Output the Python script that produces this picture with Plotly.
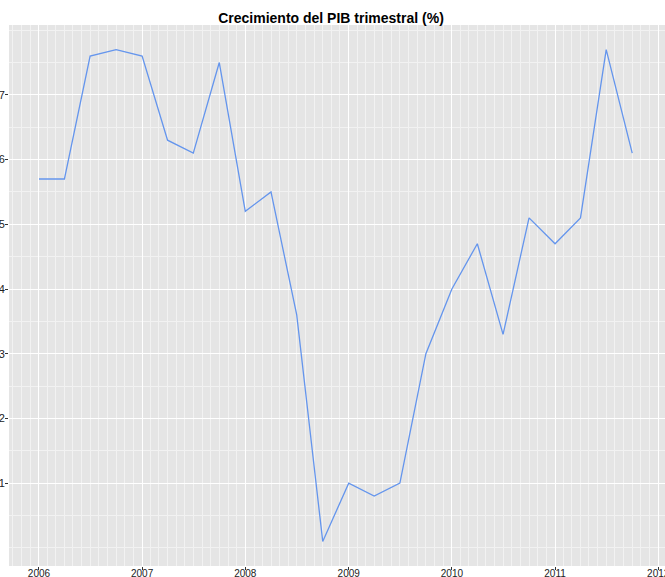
import plotly.graph_objects as go

quarters = [
    "2006-01-01", "2006-04-01", "2006-07-01", "2006-10-01",
    "2007-01-01", "2007-04-01", "2007-07-01", "2007-10-01",
    "2008-01-01", "2008-04-01", "2008-07-01", "2008-10-01",
    "2009-01-01", "2009-04-01", "2009-07-01", "2009-10-01",
    "2010-01-01", "2010-04-01", "2010-07-01", "2010-10-01",
    "2011-01-01", "2011-04-01", "2011-07-01", "2011-10-01",
]
pib_growth = [
    5.7, 5.7, 7.6, 7.7,
    7.6, 6.3, 6.1, 7.5,
    5.2, 5.5, 3.6, 0.1,
    1.0, 0.8, 1.0, 3.0,
    4.0, 4.7, 3.3, 5.1,
    4.7, 5.1, 7.7, 6.1,
]
y_ticks = [1, 2, 3, 4, 5, 6, 7]
title_text = "Crecimiento del PIB trimestral (%)"

fig = go.Figure()
fig.add_trace(go.Scatter(
    x=quarters, y=pib_growth, mode="lines",
    line=dict(color="#6495ED", width=1.3),
    showlegend=False,
))

fig.update_layout(
    template="none",
    width=665, height=577,
    margin=dict(l=9, r=0, t=25, b=11),
    paper_bgcolor="white",
    plot_bgcolor="#E5E5E5",
    font=dict(family="Liberation Sans", color="#222222"),
    title=dict(
        text=f"<b>{title_text}</b>",
        x=331 / 665, xanchor="center",
        y=1 - 18 / 577, yanchor="middle",
        font=dict(size=14, color="black"),
    ),
    xaxis=dict(
        type="date",
        range=["2005-09-17", "2012-01-25"],
        tick0="2006-01-01", dtick="M12", tickformat="%Y",
        showgrid=True, gridcolor="white", gridwidth=1.4,
        zeroline=False, showline=False,
        ticks="outside", ticklen=3, tickcolor="#333333",
        tickfont=dict(size=10, color="#222222"),
        ticklabelstandoff=-5,
        ticklabeloverflow="allow",
        minor=dict(dtick="M1", tick0="2006-01-01", showgrid=True,
                   gridcolor="#F2F2F2", gridwidth=0.7, ticks=""),
        automargin=False,
    ),
    yaxis=dict(
        range=[-0.28, 8.08],
        tickmode="array", tickvals=y_ticks,
        showgrid=True, gridcolor="white", gridwidth=1.4,
        zeroline=False, showline=False,
        ticks="outside", ticklen=3, tickcolor="#333333",
        tickfont=dict(size=11, color="#222222"),
        ticklabelstandoff=-2,
        ticklabeloverflow="allow",
        minor=dict(tickmode="linear", tick0=0, dtick=0.5, showgrid=True,
                   gridcolor="#F2F2F2", gridwidth=0.7, ticks=""),
        automargin=False,
    ),
)

fig.write_html(
    "out.html",
    config={"displayModeBar": False},
    post_script="document.body.style.margin='0';",
)
